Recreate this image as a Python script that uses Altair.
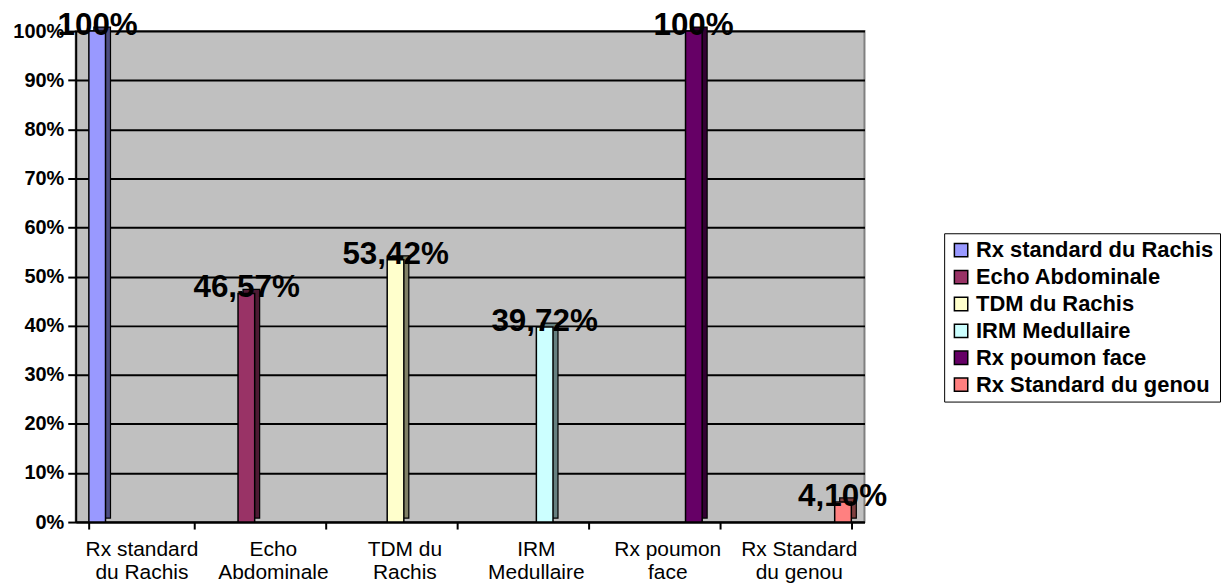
import altair as alt
import pandas as pd

series = ["Rx standard du Rachis", "Echo Abdominale", "TDM du Rachis",
          "IRM Medullaire", "Rx poumon face", "Rx Standard du genou"]
x_labels = ["Rx standard|du Rachis", "Echo|Abdominale", "TDM du|Rachis",
            "IRM|Medullaire", "Rx poumon|face", "Rx Standard|du genou"]
values = [1.0, 0.4657, 0.5342, 0.3972, 1.0, 0.041]
value_labels = ["100%", "46,57%", "53,42%", "39,72%", "100%", "4,10%"]
front_colors = ["#9999FF", "#993366", "#FFFFCC", "#CCFFFF", "#660066", "#FF8080"]
side_colors = ["#4D4D80", "#4D1A33", "#808066", "#668080", "#330033", "#804040"]
y_ticks = [0, 0.1, 0.2, 0.3, 0.4, 0.5, 0.6, 0.7, 0.8, 0.9, 1.0]

df = pd.DataFrame({"cat": x_labels, "series": series, "value": values, "label": value_labels})

FONT = "Liberation Sans"

x_enc = alt.X("cat:N", sort=x_labels,
              scale=alt.Scale(paddingInner=0.2, paddingOuter=0.1),
              axis=alt.Axis(title=None, labelAngle=0, labelFont=FONT, labelFontSize=21,
                            labelColor="black", labelExpr="split(datum.label, '|')",
                            labelLineHeight=23, labelPadding=10, tickBand="extent",
                            tickSize=7, tickColor="black", tickWidth=2,
                            domainColor="black", domainWidth=2, grid=False))
xo_front = alt.XOffset("series:N", sort=series, scale=alt.Scale(paddingInner=0.06))
xo_side = alt.XOffset("series:N", sort=series,
                      scale=alt.Scale(paddingInner=0.06,
                                      range=[5, alt.ExprRef(expr="bandwidth('x') + 5")]))
y_enc = alt.Y("value:Q", scale=alt.Scale(domain=[0, 1]),
              axis=alt.Axis(title=None, values=y_ticks, format="%", labelFont=FONT,
                            labelFontSize=20, labelFontWeight="bold", labelColor="black",
                            tickSize=8, tickColor="black", tickWidth=2, labelPadding=4,
                            domainColor="black", domainWidth=2,
                            grid=True, gridColor="black", gridWidth=2))

base = alt.Chart(df)

side = base.mark_bar(yOffset=-4, y2Offset=-4, stroke="black", strokeWidth=1.2).encode(
    x=x_enc, xOffset=xo_side, y=y_enc,
    color=alt.Color("series:N", sort=series,
                    scale=alt.Scale(domain=series, range=side_colors), legend=None))

front = base.mark_bar(stroke="black", strokeWidth=1.5).encode(
    x=x_enc, xOffset=xo_front, y=y_enc,
    color=alt.Color("series:N", sort=series,
                    scale=alt.Scale(domain=series, range=front_colors),
                    legend=alt.Legend(title=None, orient="none", legendX=872, legendY=203,
                                      symbolType="square", symbolSize=180,
                                      symbolStrokeColor="black", symbolStrokeWidth=1.5,
                                      labelFont=FONT, labelFontSize=22, labelFontWeight="bold",
                                      labelColor="black", labelOffset=4, rowPadding=5,
                                      labelLimit=0, padding=6,
                                      strokeColor="black", fillColor="white")))

text = base.mark_text(font=FONT, fontSize=31.5, fontWeight="bold", color="black",
                      baseline="middle", dy=-5).encode(
    x=x_enc, xOffset=xo_front, y=y_enc, text="label:N")

chart = alt.layer(side, front, text).resolve_scale(
    color="independent", xOffset="independent").properties(
    width=792, height=493,
    autosize=alt.AutoSizeParams(type="none"),
    padding={"left": 68, "top": 22, "right": 360, "bottom": 62},
    background="white",
).configure_view(fill="#C0C0C0", stroke="#808080", strokeWidth=2)

chart.save("out.html", embed_options={"renderer": "svg", "actions": False})
